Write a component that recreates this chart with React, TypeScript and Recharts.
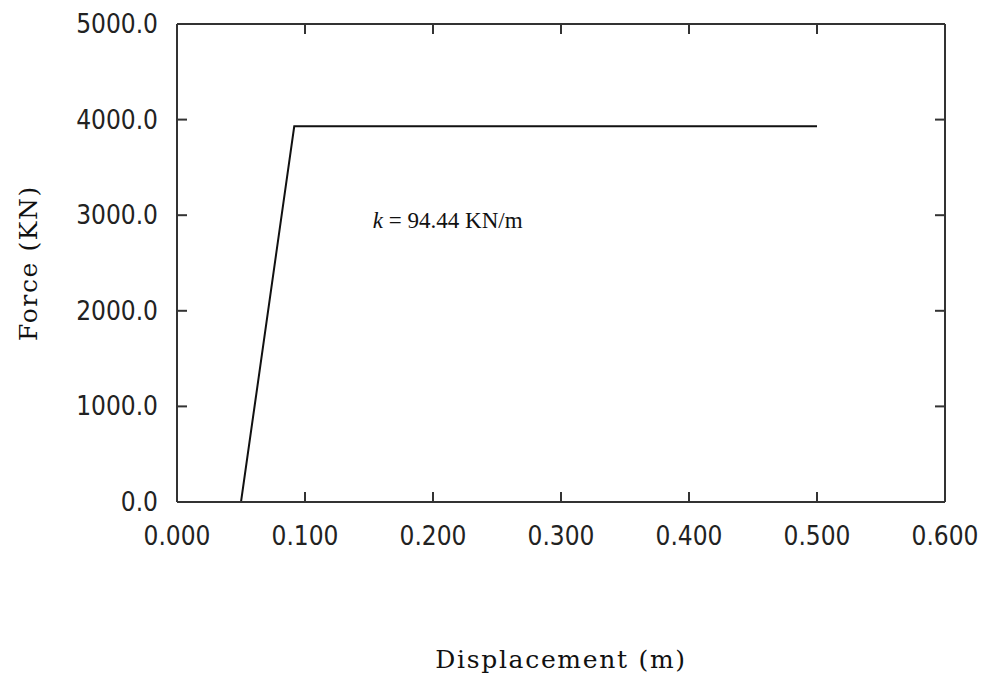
import { LineChart, Line, XAxis, YAxis, ReferenceDot } from 'recharts'

// bilinear force-displacement curve
const displacement = [0.05, 0.0916, 0.5]
const force = [0, 3930, 3930]

const xTicks = [0, 0.1, 0.2, 0.3, 0.4, 0.5, 0.6]
const yTicks = [0, 1000, 2000, 3000, 4000, 5000]

const noteX = 0.153
const noteY = 2870
const noteText = '= 94.44 KN/m'

const data = displacement.map((d, i) => ({ disp: d, force: force[i] }))

const axisColor = '#333'
const tickLen = 10
const tickFontFamily = "'DejaVu Sans Condensed', 'DejaVu Sans', sans-serif"
const serif = "'DejaVu Serif', serif"

// ticks point inward, so draw the tick line together with the label
const BottomTick = ({ x, y, payload }: any) => (
    <g>
        <line x1={x} y1={y} x2={x} y2={y - tickLen} stroke={axisColor} strokeWidth={2} />
        <text x={x} y={y + 43} textAnchor="middle" fontSize={26} fontFamily={tickFontFamily} fill="#222">
            {payload.value.toFixed(3)}
        </text>
    </g>
)

const LeftTick = ({ x, y, payload }: any) => (
    <g>
        <line x1={x} y1={y} x2={x + tickLen} y2={y} stroke={axisColor} strokeWidth={2} />
        <text x={x - 19} y={y + 9} textAnchor="end" fontSize={26} fontFamily={tickFontFamily} fill="#222">
            {payload.value.toFixed(1)}
        </text>
    </g>
)

const TopTick = ({ x, y }: any) => (
    <line x1={x} y1={y} x2={x} y2={y + tickLen} stroke={axisColor} strokeWidth={2} />
)

const RightTick = ({ x, y }: any) => (
    <line x1={x} y1={y} x2={x - tickLen} y2={y} stroke={axisColor} strokeWidth={2} />
)

const XTitle = ({ viewBox }: any) => (
    <text
        x={viewBox.x + viewBox.width / 2}
        y={viewBox.y + 166}
        textAnchor="middle"
        fontFamily={serif}
        fontSize={25}
        letterSpacing={1.7}
        fill="#111"
    >
        Displacement (m)
    </text>
)

const YTitle = ({ viewBox }: any) => {
    const cx = viewBox.x + 28
    const cy = viewBox.y + viewBox.height / 2
    return (
        <text
            x={cx}
            y={cy}
            transform={`rotate(-90 ${cx} ${cy})`}
            textAnchor="middle"
            dominantBaseline="central"
            fontFamily={serif}
            fontSize={25}
            letterSpacing={1.6}
            fill="#111"
        >
            Force (KN)
        </text>
    )
}

const Note = ({ viewBox }: any) => (
    <text x={viewBox.x} y={viewBox.y} fontFamily="'Liberation Serif', serif" fontSize={23} fill="#111">
        <tspan fontStyle="italic">k</tspan>
        <tspan> {noteText}</tspan>
    </text>
)

export default function App() {
    return (
        <div style={{ position: 'absolute', left: 0, top: 0, background: '#fff' }}>
            <LineChart width={984} height={681} data={data} margin={{ top: 23, right: 38, bottom: 0, left: 0 }}>
                <XAxis
                    dataKey="disp"
                    type="number"
                    domain={[0, 0.6]}
                    allowDataOverflow
                    ticks={xTicks}
                    interval={0}
                    height={179}
                    tickSize={0}
                    tickMargin={0}
                    tick={<BottomTick />}
                    tickLine={false}
                    axisLine={{ stroke: axisColor, strokeWidth: 2 }}
                    label={{ content: XTitle }}
                />
                <XAxis
                    xAxisId="top"
                    dataKey="disp"
                    orientation="top"
                    type="number"
                    domain={[0, 0.6]}
                    allowDataOverflow
                    ticks={xTicks}
                    interval={0}
                    height={1}
                    tickSize={0}
                    tickMargin={0}
                    tick={<TopTick />}
                    tickLine={false}
                    axisLine={{ stroke: axisColor, strokeWidth: 2 }}
                />
                <YAxis
                    dataKey="force"
                    type="number"
                    domain={[0, 5000]}
                    allowDataOverflow
                    ticks={yTicks}
                    interval={0}
                    width={177}
                    tickSize={0}
                    tickMargin={0}
                    tick={<LeftTick />}
                    tickLine={false}
                    axisLine={{ stroke: axisColor, strokeWidth: 2 }}
                    label={{ content: YTitle }}
                />
                <YAxis
                    yAxisId="right"
                    dataKey="force"
                    orientation="right"
                    type="number"
                    domain={[0, 5000]}
                    allowDataOverflow
                    ticks={yTicks}
                    interval={0}
                    width={1}
                    tickSize={0}
                    tickMargin={0}
                    tick={<RightTick />}
                    tickLine={false}
                    axisLine={{ stroke: axisColor, strokeWidth: 2 }}
                />
                <Line
                    type="linear"
                    dataKey="force"
                    stroke="#111"
                    strokeWidth={2}
                    dot={false}
                    activeDot={false}
                    isAnimationActive={false}
                />
                <ReferenceDot x={noteX} y={noteY} r={0} fill="none" stroke="none" label={{ content: Note }} />
            </LineChart>
        </div>
    )
}
